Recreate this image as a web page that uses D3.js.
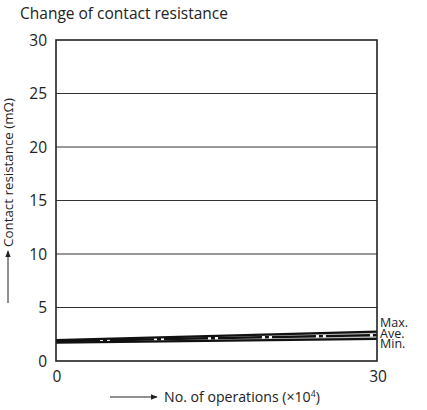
<!DOCTYPE html>
<html>
<head>
<meta charset="utf-8">
<script src="https://cdn.jsdelivr.net/npm/d3@7"></script>
<style>
  body { margin: 0; background: #fff; }
  text { font-family: "Open Sans", "Noto Sans", sans-serif; fill: #222; }
</style>
</head>
<body>
<svg id="drawing_region"></svg>
<script>
// data
const operations = [0, 30];          // x (×10^4)
const maxValues  = [1.95, 2.75];     // mΩ
const aveValues  = [1.85, 2.42];
const minValues  = [1.72, 2.07];
const yTicks = [0, 5, 10, 15, 20, 25, 30];
const xTicks = [0, 30];
const seriesLabels = ["Max.", "Ave.", "Min."];

const config = {
    width: 427,
    height: 410,
    margin: { left: 56, top: 40, right: 50, bottom: 49 }
};

const svg = d3.select('#drawing_region')
    .attr('width', config.width)
    .attr('height', config.height);

const innerW = config.width - config.margin.left - config.margin.right;
const innerH = config.height - config.margin.top - config.margin.bottom;

const x = d3.scaleLinear().domain([0, 30]).range([0, innerW]);
const y = d3.scaleLinear().domain([0, 30]).range([innerH, 0]);

const chart = svg.append('g')
    .attr('transform', `translate(${config.margin.left},${config.margin.top})`);

// shrink/grow a text so it spans the width seen in the picture
function fitWidth(sel, target) {
    const fs = parseFloat(sel.attr('font-size'));
    const w = sel.node().getComputedTextLength();
    sel.attr('font-size', fs * target / w);
}

// title
svg.append('text')
    .attr('x', 20).attr('y', 19)
    .attr('font-size', 15)
    .text('Change of contact resistance')
    .call(fitWidth, 208);

// gridlines
chart.selectAll('line.grid')
    .data(yTicks.filter(d => d > 0 && d < 30))
    .enter().append('line')
    .attr('class', 'grid')
    .attr('x1', 0).attr('x2', innerW)
    .attr('y1', d => y(d)).attr('y2', d => y(d))
    .attr('stroke', '#333').attr('stroke-width', 1);

// y tick labels
chart.selectAll('text.ytick')
    .data(yTicks)
    .enter().append('text')
    .attr('class', 'ytick')
    .attr('x', -9).attr('y', d => y(d) + 5.5)
    .attr('text-anchor', 'end')
    .attr('font-size', 15.5)
    .text(d => d);

// x tick labels
chart.selectAll('text.xtick')
    .data(xTicks)
    .enter().append('text')
    .attr('class', 'xtick')
    .attr('x', d => x(d) + 1).attr('y', innerH + 21)
    .attr('text-anchor', 'middle')
    .attr('font-size', 15.5)
    .text(d => d);

const pts = arr => operations.map((o, i) => [o, arr[i]]);
const line = d3.line().x(d => x(d[0])).y(d => y(d[1]));
const area = d3.area()
    .x((d, i) => x(operations[i]))
    .y0((d, i) => y(minValues[i]))
    .y1((d, i) => y(maxValues[i]));

// band between max and min
chart.append('path')
    .datum(operations)
    .attr('d', area)
    .attr('fill', '#bdbdbd');

// average: white base with black dashed pattern
chart.append('path')
    .datum(pts(aveValues))
    .attr('d', line)
    .attr('fill', 'none')
    .attr('stroke', '#fff')
    .attr('stroke-width', 2.4);
chart.append('path')
    .datum(pts(aveValues))
    .attr('d', line)
    .attr('fill', 'none')
    .attr('stroke', '#111')
    .attr('stroke-width', 2.4)
    .attr('stroke-dasharray', '44,3,4,3');

// max & min
[maxValues, minValues].forEach(v => {
    chart.append('path')
        .datum(pts(v))
        .attr('d', line)
        .attr('fill', 'none')
        .attr('stroke', '#111')
        .attr('stroke-width', 2.2);
});

// frame
chart.append('rect')
    .attr('x', 0).attr('y', 0)
    .attr('width', innerW).attr('height', innerH)
    .attr('fill', 'none')
    .attr('stroke', '#222').attr('stroke-width', 1.6);

// series labels at right end (stacked tightly as in the picture)
const last = operations.length - 1;
chart.selectAll('text.series')
    .data(seriesLabels)
    .enter().append('text')
    .attr('class', 'series')
    .attr('x', innerW + 3)
    .attr('y', (d, i) => y(maxValues[last]) - 4.5 + i * 10.5)
    .attr('font-size', 12.5)
    .text(d => d);

// x axis label with arrow
svg.append('defs').append('marker')
    .attr('id', 'arrow')
    .attr('viewBox', '0 0 10 10')
    .attr('refX', 9).attr('refY', 5)
    .attr('markerWidth', 7).attr('markerHeight', 7)
    .attr('orient', 'auto')
    .append('path').attr('d', 'M0,1 L10,5 L0,9 Z').attr('fill', '#222');

svg.append('line')
    .attr('x1', 110).attr('x2', 157)
    .attr('y1', 397).attr('y2', 397)
    .attr('stroke', '#222').attr('stroke-width', 1)
    .attr('marker-end', 'url(#arrow)');
const xl = svg.append('text')
    .attr('x', 164).attr('y', 402)
    .attr('font-size', 13);
xl.append('tspan').text('No. of operations (×10');
xl.append('tspan').attr('font-size', 8).attr('dy', -5).text('4');
xl.append('tspan').attr('dy', 5).text(')');
{
    const w = xl.node().getComputedTextLength();
    const k = 156 / w;
    xl.attr('font-size', 13 * k);
    xl.select('tspan:nth-child(2)').attr('font-size', 8 * k);
}

// y axis label with arrow
svg.append('line')
    .attr('x1', 8).attr('x2', 8)
    .attr('y1', 303).attr('y2', 251)
    .attr('stroke', '#222').attr('stroke-width', 1)
    .attr('marker-end', 'url(#arrow)');
svg.append('text')
    .attr('transform', 'translate(13,247) rotate(-90)')
    .attr('font-size', 12.5)
    .text('Contact resistance (mΩ)')
    .call(fitWidth, 149);
</script>
</body>
</html>
